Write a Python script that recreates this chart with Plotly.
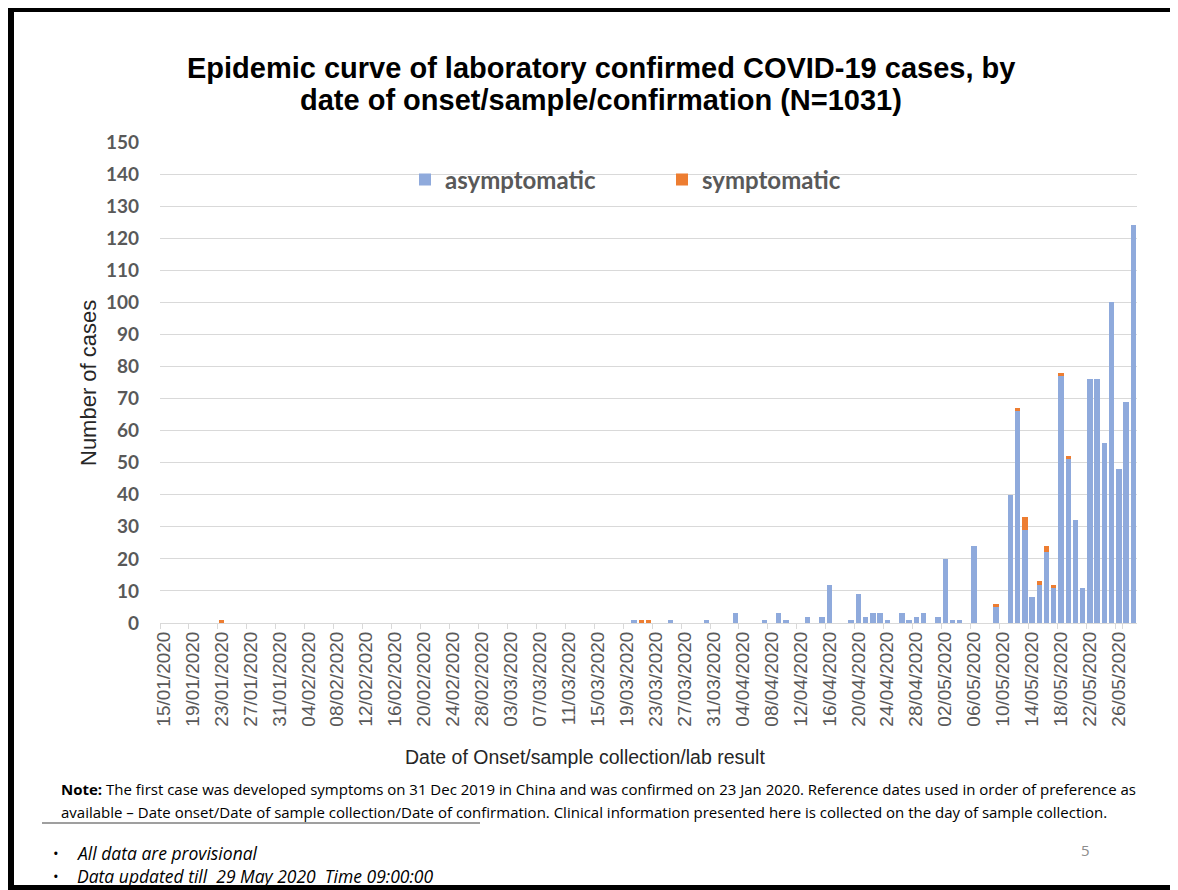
import pandas as pd
import plotly.graph_objects as go

# ---- categories (every day on the axis) ----
all_days = [d.strftime("%d/%m/%Y") for d in pd.date_range("2020-01-15", "2020-05-28", freq="D")]
tick_labels = all_days[::4]

# ---- days with cases ----
case_dates = [
    "23/01/2020", "20/03/2020", "21/03/2020", "22/03/2020", "25/03/2020", "30/03/2020",
    "03/04/2020", "07/04/2020", "09/04/2020", "10/04/2020", "13/04/2020", "15/04/2020",
    "16/04/2020", "19/04/2020", "20/04/2020", "21/04/2020", "22/04/2020", "23/04/2020",
    "24/04/2020", "26/04/2020", "27/04/2020", "28/04/2020", "29/04/2020", "01/05/2020",
    "02/05/2020", "03/05/2020", "04/05/2020", "06/05/2020", "09/05/2020", "11/05/2020",
    "12/05/2020", "13/05/2020", "14/05/2020", "15/05/2020", "16/05/2020", "17/05/2020",
    "18/05/2020", "19/05/2020", "20/05/2020", "21/05/2020", "22/05/2020", "23/05/2020",
    "24/05/2020", "25/05/2020", "26/05/2020", "27/05/2020", "28/05/2020",
]
asymptomatic = [
    0, 1, 0, 0, 1, 1,
    3, 1, 3, 1, 2, 2,
    12, 1, 9, 2, 3, 3,
    1, 3, 1, 2, 3, 2,
    20, 1, 1, 24, 5, 40,
    66, 29, 8, 12, 22, 11,
    77, 51, 32, 11, 76, 76,
    56, 100, 48, 69, 124,
]
symptomatic = [
    1, 0, 1, 1, 0, 0,
    0, 0, 0, 0, 0, 0,
    0, 0, 0, 0, 0, 0,
    0, 0, 0, 0, 0, 0,
    0, 0, 0, 0, 1, 0,
    1, 4, 0, 1, 2, 1,
    1, 1, 0, 0, 0, 0,
    0, 0, 0, 0, 0,
]

OFF = 8  # page body margin
W, H = 1170, 882
L, R, T, B = 152, 41, 134, 267
PW, PH = W - L - R, H - T - B


def px(x):  # page pixel -> paper x
    return (x - OFF - L) / PW


def py(y):  # page pixel -> paper y
    return (H - B - (y - OFF)) / PH


BLUE = "#8FAADC"
ORANGE = "#ED7D31"
GRAY = "#595959"
ARIAL = "Liberation Sans, Arial"

fig = go.Figure()
fig.add_trace(go.Bar(x=case_dates, y=asymptomatic, name="asymptomatic",
                     marker=dict(color=BLUE, line=dict(width=0))))
fig.add_trace(go.Bar(x=case_dates, y=symptomatic, name="symptomatic",
                     marker=dict(color=ORANGE, line=dict(width=0))))

fig.update_layout(
    width=W, height=H,
    margin=dict(l=L, r=R, t=T, b=B, autoexpand=False),
    paper_bgcolor="white", plot_bgcolor="white",
    barmode="stack", bargap=0.25,
    legend=dict(
        orientation="h", x=px(405), xanchor="left", y=py(180), yanchor="middle",
        font=dict(family="Lato", size=24, color=GRAY, weight="bold"),
        entrywidth=212, bgcolor="rgba(0,0,0,0)", traceorder="normal",
    ),
    showlegend=True,
    xaxis=dict(
        type="category", categoryorder="array", categoryarray=all_days,
        range=[-0.5, len(all_days) - 0.5],
        tickmode="array", tickvals=tick_labels, ticktext=tick_labels,
        tickson="boundaries", ticks="outside", ticklen=5, tickcolor="#D9D9D9",
        showline=True, linecolor="#D9D9D9", linewidth=1, showgrid=False,
        tickangle=-90, tickfont=dict(family=ARIAL, size=19, color=GRAY),
    ),
    yaxis=dict(
        range=[0, 150], dtick=10, tick0=0, showgrid=True, gridcolor="#D9D9D9", gridwidth=1,
        zeroline=False, showline=False, ticks="", ticklabelstandoff=20,
        tickfont=dict(family="Lato", size=19, color=GRAY, weight="bold"),
    ),
)

ann = []
title_lines = ["Epidemic curve of laboratory confirmed COVID-19 cases, by",
               "date of onset/sample/confirmation (N=1031)"]
for txt, yy in zip(title_lines, [68, 100]):
    ann.append(dict(text="<b>" + txt + "</b>", x=px(601), y=py(yy), xref="paper", yref="paper",
                    showarrow=False, xanchor="center", yanchor="middle",
                    font=dict(family=ARIAL, size=29, color="#000000")))
ann.append(dict(text="Number of cases", x=px(88), y=py(383), xref="paper", yref="paper",
                textangle=-90, showarrow=False, xanchor="center", yanchor="middle",
                font=dict(family=ARIAL, size=22, color="#262626")))
ann.append(dict(text="Date of Onset/sample collection/lab result", x=px(585), y=py(757),
                xref="paper", yref="paper", showarrow=False, xanchor="center", yanchor="middle",
                font=dict(family=ARIAL, size=19.5, color="#262626")))
note1 = ("<b>Note:</b> The first case was developed symptoms on 31 Dec 2019 in China and was confirmed on 23 Jan 2020. "
         "Reference dates used in order of preference as")
note2 = ("available \u2013 Date onset/Date of sample collection/Date of confirmation. "
         "Clinical information presented here is collected on the day of sample collection.")
for txt, yy in [(note1, 789), (note2, 812)]:
    ann.append(dict(text=txt, x=px(59), y=py(yy), xref="paper", yref="paper", showarrow=False,
                    xanchor="left", yanchor="middle",
                    font=dict(family="Open Sans", size=15, color="#000000")))
for txt, yy in [("All data are provisional", 853), ("Data updated till  29 May 2020  Time 09:00:00", 876)]:
    ann.append(dict(text="\u2022", x=px(56), y=py(yy), xref="paper", yref="paper", showarrow=False,
                    xanchor="center", yanchor="middle",
                    font=dict(family="Open Sans", size=15, color="#000000")))
    ann.append(dict(text="<i>" + txt + "</i>", x=px(75), y=py(yy), xref="paper", yref="paper",
                    showarrow=False, xanchor="left", yanchor="middle",
                    font=dict(family="Open Sans", size=17.5, color="#000000")))
ann.append(dict(text="5", x=px(1085), y=py(850), xref="paper", yref="paper", showarrow=False,
                xanchor="center", yanchor="middle",
                font=dict(family="Open Sans", size=15, color="#8C8C8C")))
fig.update_layout(annotations=ann)

shapes = [
    # slide frame (black bars)
    dict(type="rect", xref="paper", yref="paper", x0=px(6), x1=px(1200), y0=py(12), y1=py(-4),
         fillcolor="black", line=dict(width=0), layer="above"),
    dict(type="rect", xref="paper", yref="paper", x0=px(6), x1=px(14), y0=py(900), y1=py(-4),
         fillcolor="black", line=dict(width=0), layer="above"),
    dict(type="rect", xref="paper", yref="paper", x0=px(6), x1=px(1200), y0=py(900), y1=py(885),
         fillcolor="black", line=dict(width=0), layer="above"),
    # underline below the note
    dict(type="line", xref="paper", yref="paper", x0=px(42), x1=px(480), y0=py(823), y1=py(823),
         line=dict(color="#7F7F7F", width=1.5)),
]
fig.update_layout(shapes=shapes)

fig.write_html("out.html")
